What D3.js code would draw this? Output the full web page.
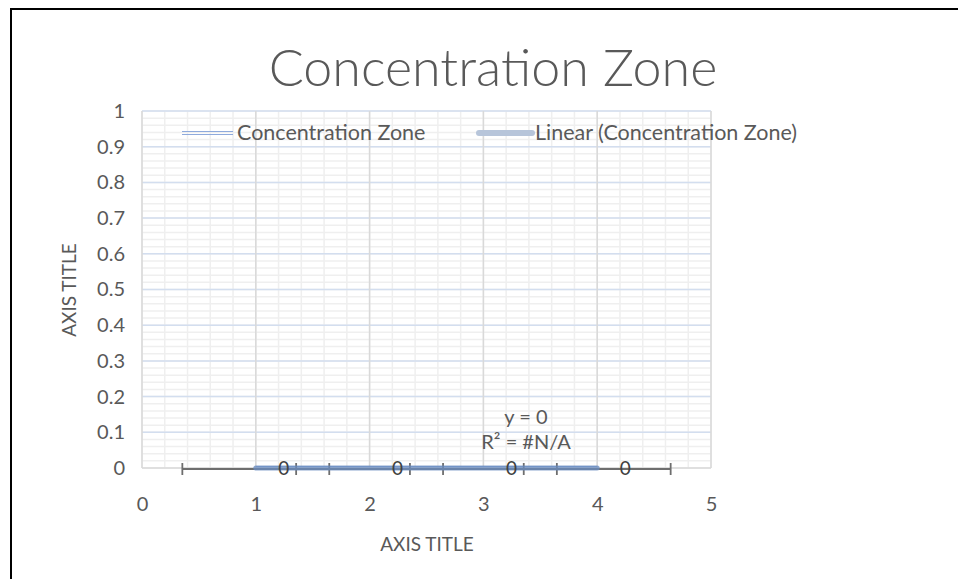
<!DOCTYPE html>
<html>
<head>
<meta charset="utf-8" />
<title>Concentration Zone</title>
<style>
html, body {
    margin: 0;
    padding: 0;
    background: #fff;
}
svg text {
    font-family: Lato, "Open Sans", sans-serif;
}
</style>
</head>
<body>
<div id="chart"></div>
<script src="https://cdnjs.cloudflare.com/ajax/libs/d3/7.8.5/d3.min.js"></script>
<script>
// data
var xValues = [1, 2, 3, 4]
var yValues = [0, 0, 0, 0]
var xTicks = [0, 1, 2, 3, 4, 5]
var yTicks = [0, 0.1, 0.2, 0.3, 0.4, 0.5, 0.6, 0.7, 0.8, 0.9, 1]
var seriesName = "Concentration Zone"
var trendName = "Linear (Concentration Zone)"
var trendText = ["y = 0", "R² = #N/A"]

var W = 958, H = 579
var plot = {left: 142, right: 711, top: 111, bottom: 468}

var svg = d3.select("#chart").append("svg")
    .attr("width", W)
    .attr("height", H)

// outer frame (only top and left are visible in the picture)
svg.append("path")
    .attr("d", "M11," + H + "V9H" + W)
    .attr("fill", "none")
    .attr("stroke", "#000")
    .attr("stroke-width", 2)

var x = d3.scaleLinear().domain([0, 5]).range([plot.left, plot.right])
var y = d3.scaleLinear().domain([0, 1]).range([plot.bottom, plot.top])

var grid = svg.append("g")

// minor gridlines
grid.selectAll(".minx")
    .data(d3.range(0, 5.001, 0.2))
    .enter().append("line")
    .attr("x1", function(d) { return x(d) }).attr("x2", function(d) { return x(d) })
    .attr("y1", plot.top).attr("y2", plot.bottom)
    .attr("stroke", "#efefef").attr("stroke-width", 1.5)

grid.selectAll(".miny")
    .data(d3.range(0, 1.001, 0.02))
    .enter().append("line")
    .attr("x1", plot.left).attr("x2", plot.right)
    .attr("y1", function(d) { return y(d) }).attr("y2", function(d) { return y(d) })
    .attr("stroke", "#efefef").attr("stroke-width", 1.5)

// major gridlines
grid.selectAll(".majy")
    .data(yTicks.slice(1))
    .enter().append("line")
    .attr("x1", plot.left).attr("x2", plot.right)
    .attr("y1", function(d) { return y(d) }).attr("y2", function(d) { return y(d) })
    .attr("stroke", "#d3deef").attr("stroke-width", 1.5)

grid.selectAll(".majx")
    .data(xTicks)
    .enter().append("line")
    .attr("x1", function(d) { return x(d) }).attr("x2", function(d) { return x(d) })
    .attr("y1", plot.top).attr("y2", plot.bottom)
    .attr("stroke", "#d9d9d9").attr("stroke-width", 1.5)

// x axis line
grid.append("line")
    .attr("x1", plot.left).attr("x2", plot.right)
    .attr("y1", y(0)).attr("y2", y(0))
    .attr("stroke", "#d9d9d9").attr("stroke-width", 1.5)

// tick labels via d3 axes
var xAxis = svg.append("g")
    .attr("transform", "translate(0," + (plot.bottom + 26) + ")")
    .call(d3.axisBottom(x).tickValues(xTicks).tickSize(0).tickFormat(d3.format("d")))
xAxis.select(".domain").remove()
xAxis.selectAll("text").attr("font-size", 20).attr("fill", "#595959")
    .attr("font-family", "Lato, sans-serif")

var yAxis = svg.append("g")
    .attr("transform", "translate(" + (plot.left - 14) + ",0)")
    .call(d3.axisLeft(y).tickValues(yTicks).tickSize(0).tickFormat(function(d) { return d3.format("")(+d.toFixed(1)) }))
yAxis.select(".domain").remove()
yAxis.selectAll("text").attr("font-size", 20).attr("fill", "#595959")
    .attr("font-family", "Lato, sans-serif")

// series line (double compound line)
var line = d3.line()
    .x(function(d, i) { return x(xValues[i]) })
    .y(function(d) { return y(d) })

svg.append("path").datum(yValues)
    .attr("d", line).attr("transform", "translate(0,-1.5)")
    .attr("fill", "none").attr("stroke", "#8faadc").attr("stroke-width", 1.2)
svg.append("path").datum(yValues)
    .attr("d", line).attr("transform", "translate(0,1.5)")
    .attr("fill", "none").attr("stroke", "#8faadc").attr("stroke-width", 1.2)

// x error bars (standard error)
var n = xValues.length
var mean = d3.mean(xValues)
var se = d3.deviation(xValues) / Math.sqrt(n)

var err = svg.append("g")
xValues.forEach(function(xv, i) {
    var yy = y(yValues[i]) + 1
    err.append("line")
        .attr("x1", x(xv - se)).attr("x2", x(xv + se))
        .attr("y1", yy).attr("y2", yy)
        .attr("stroke", "#6e6e6e").attr("stroke-width", 1.8)
    ;[xv - se, xv + se].forEach(function(c) {
        err.append("line")
            .attr("x1", x(c)).attr("x2", x(c))
            .attr("y1", yy - 6).attr("y2", yy + 6)
            .attr("stroke", "#6e6e6e").attr("stroke-width", 1.8)
    })
})

// linear trendline
var slope = d3.sum(xValues, function(d, i) { return (d - mean) * (yValues[i] - d3.mean(yValues)) }) /
    d3.sum(xValues, function(d) { return (d - mean) * (d - mean) })
var icpt = d3.mean(yValues) - slope * mean
var x0 = d3.min(xValues), x1 = d3.max(xValues)
svg.append("line")
    .attr("x1", x(x0)).attr("x2", x(x1))
    .attr("y1", y(slope * x0 + icpt)).attr("y2", y(slope * x1 + icpt))
    .attr("stroke", "#6a8cc0").attr("stroke-opacity", 0.75)
    .attr("stroke-width", 5).attr("stroke-linecap", "round")

// data labels
svg.selectAll(".lbl")
    .data(yValues)
    .enter().append("text")
    .attr("x", function(d, i) { return x(xValues[i]) + 28 })
    .attr("y", function(d) { return y(d) + 7 })
    .attr("text-anchor", "middle")
    .attr("font-size", 19).attr("fill", "#404040")
    .text(function(d) { return d })

// trendline equation
svg.selectAll(".eq")
    .data(trendText)
    .enter().append("text")
    .attr("x", 526)
    .attr("y", function(d, i) { return 424 + i * 25 })
    .attr("text-anchor", "middle")
    .attr("font-size", 20).attr("fill", "#595959")
    .text(function(d) { return d })

// legend
var leg = svg.append("g")
leg.append("line").attr("x1", 182).attr("x2", 233).attr("y1", 131.5).attr("y2", 131.5)
    .attr("stroke", "#8faadc").attr("stroke-width", 1.2)
leg.append("line").attr("x1", 182).attr("x2", 233).attr("y1", 134.5).attr("y2", 134.5)
    .attr("stroke", "#8faadc").attr("stroke-width", 1.2)
leg.append("text").attr("x", 237).attr("y", 140)
    .attr("font-size", 21.5).attr("fill", "#595959").text(seriesName)
leg.append("line").attr("x1", 479).attr("x2", 532).attr("y1", 133).attr("y2", 133)
    .attr("stroke", "#b7c5da").attr("stroke-width", 6).attr("stroke-linecap", "round")
leg.append("text").attr("x", 535).attr("y", 140)
    .attr("font-size", 21.5).attr("fill", "#595959").text(trendName)

// title and axis titles
svg.append("text")
    .attr("x", 493).attr("y", 86)
    .attr("text-anchor", "middle")
    .attr("font-size", 52).attr("font-weight", 300).attr("fill", "#595959")
    .text(seriesName)

svg.append("text")
    .attr("x", 427).attr("y", 551)
    .attr("text-anchor", "middle")
    .attr("font-size", 19).attr("fill", "#595959")
    .text("AXIS TITLE")

svg.append("text")
    .attr("transform", "translate(76,290) rotate(-90)")
    .attr("text-anchor", "middle")
    .attr("font-size", 19).attr("fill", "#595959")
    .text("AXIS TITLE")
</script>
</body>
</html>
